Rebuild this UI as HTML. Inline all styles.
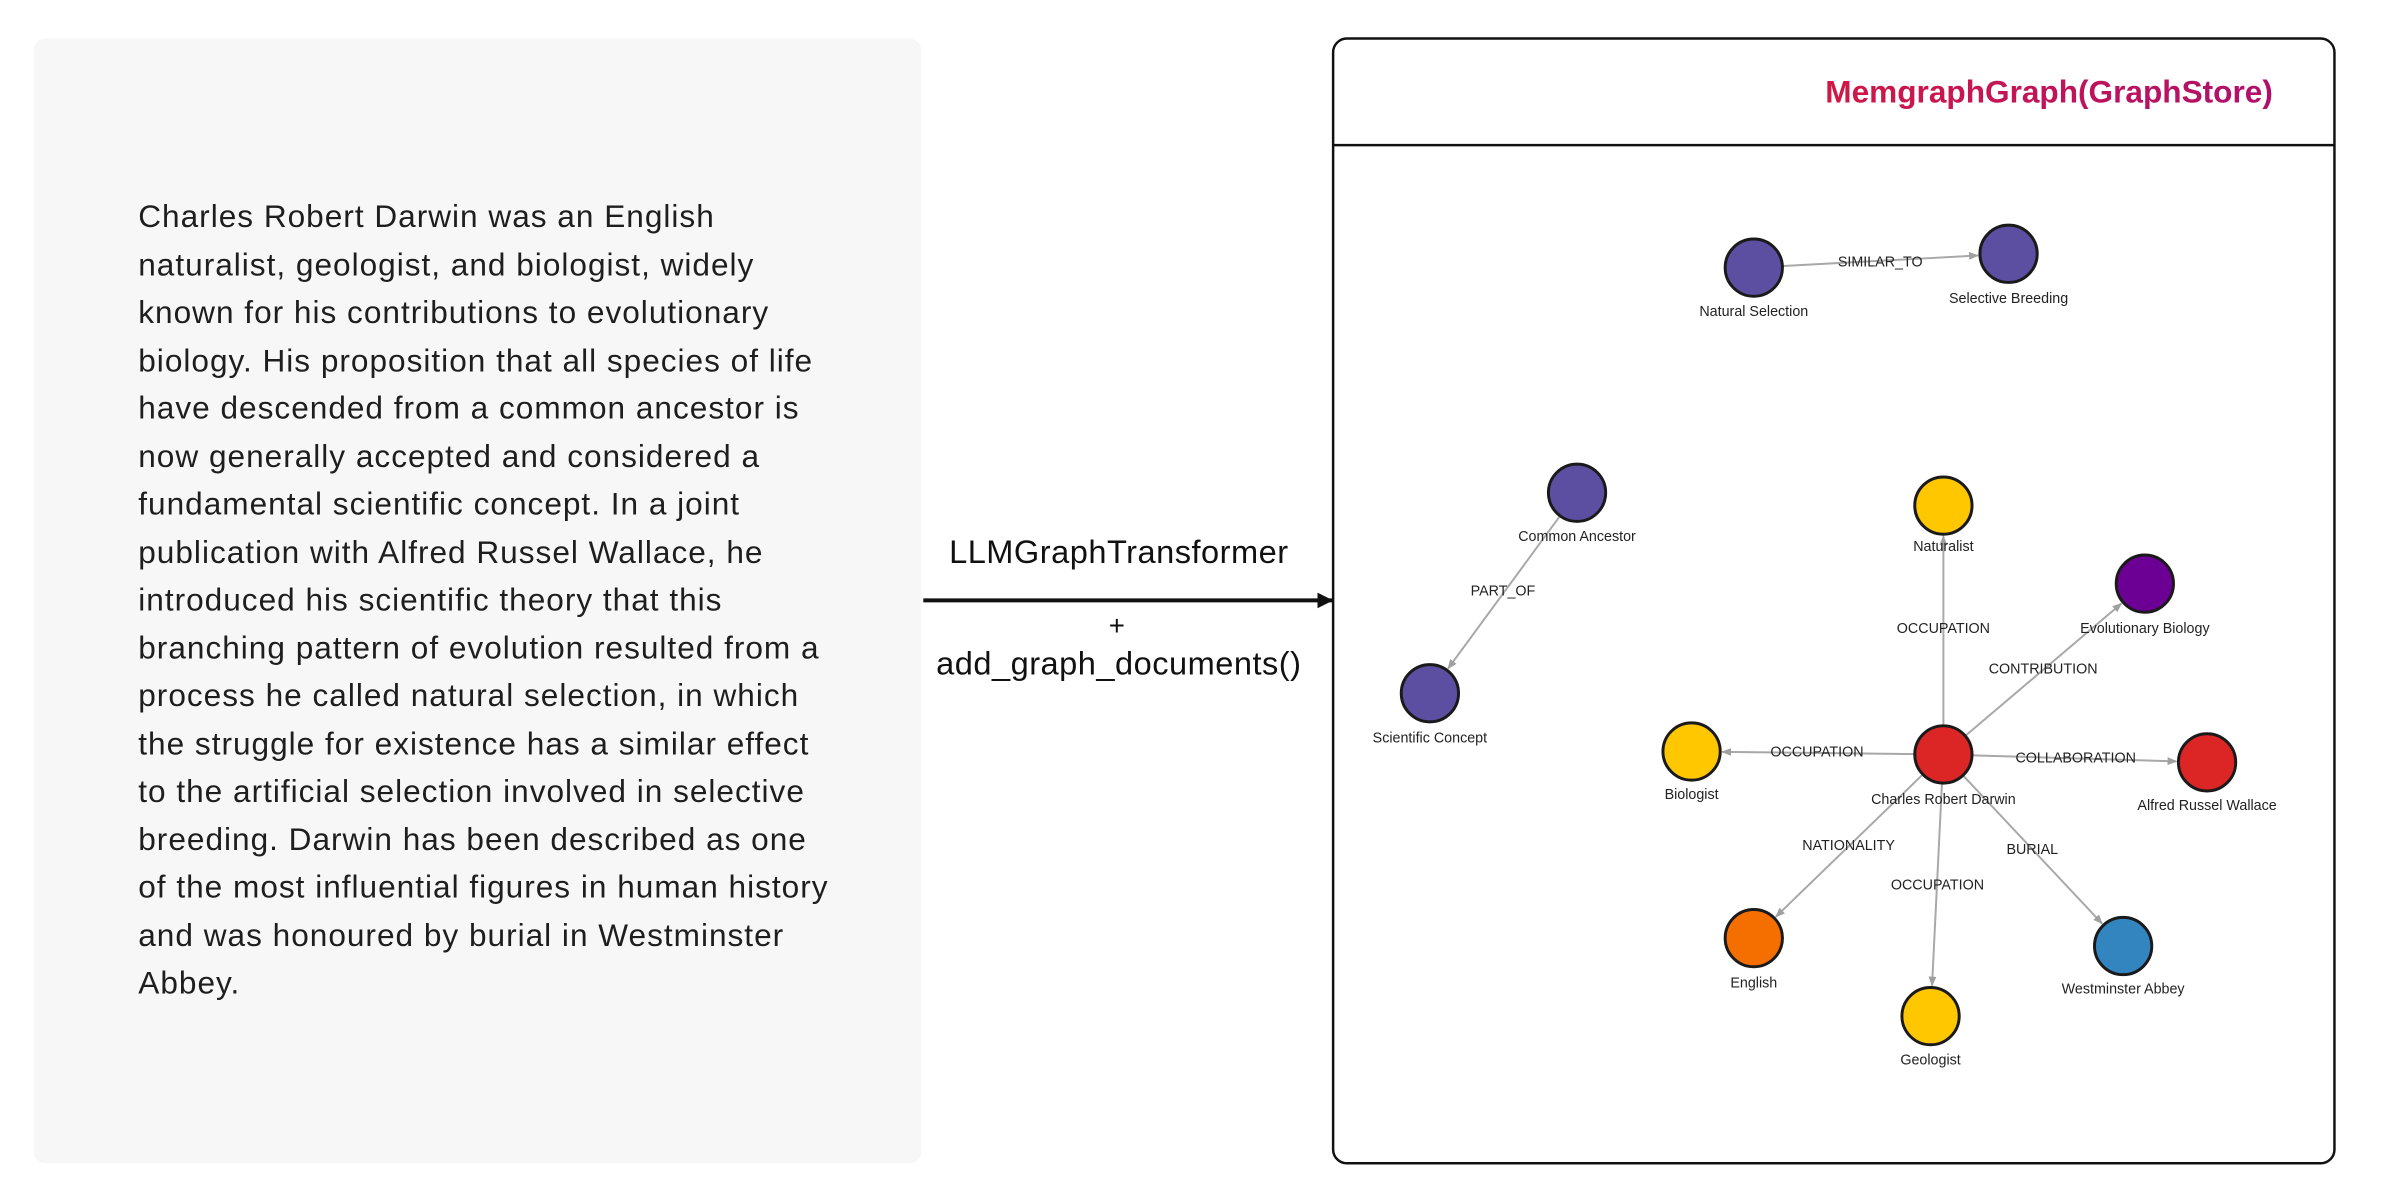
<!DOCTYPE html>
<html><head><meta charset="utf-8"><style>
html,body{margin:0;padding:0;background:#fff;width:2400px;height:1200px;overflow:hidden;font-family:"Liberation Sans",Arial,sans-serif;}
#wrap{position:absolute;left:0;top:0;width:2430px;height:1215px;transform:scale(0.9875);transform-origin:0 0;}
.left{position:absolute;left:34px;top:39px;width:899px;height:1139px;background:#f7f7f7;border-radius:12px;}
.txt{position:absolute;left:140px;top:195px;font-size:32px;letter-spacing:1px;line-height:48.5px;color:#1e1e1e;white-space:pre;}
</style></head><body><div id="wrap">
<div class="left"></div>
<div class="txt">Charles Robert Darwin was an English
naturalist, geologist, and biologist, widely
known for his contributions to evolutionary
biology. His proposition that all species of life
have descended from a common ancestor is
now generally accepted and considered a
fundamental scientific concept. In a joint
publication with Alfred Russel Wallace, he
introduced his scientific theory that this
branching pattern of evolution resulted from a
process he called natural selection, in which
the struggle for existence has a similar effect
to the artificial selection involved in selective
breeding. Darwin has been described as one
of the most influential figures in human history
and was honoured by burial in Westminster
Abbey.</div>
<svg width="2430" height="1215" style="position:absolute;left:0;top:0" xmlns="http://www.w3.org/2000/svg">
<defs>
<linearGradient id="tg" x1="0" x2="1"><stop offset="0" stop-color="#d01846"/><stop offset="1" stop-color="#b0106c"/></linearGradient>
<marker id="ah" markerWidth="10" markerHeight="10" refX="9" refY="5" orient="auto" markerUnits="userSpaceOnUse"><path d="M0,1 L10,5 L0,9 z" fill="#a0a0a0"/></marker>
<marker id="bh" markerWidth="16" markerHeight="16" refX="15" refY="8" orient="auto" markerUnits="userSpaceOnUse"><path d="M0,0 L16,8 L0,16 z" fill="#111"/></marker>
</defs>
<text x="1133" y="570" font-size="33" letter-spacing="0.5" text-anchor="middle" fill="#111">LLMGraphTransformer</text>
<line x1="935" y1="608" x2="1349" y2="608" stroke="#111" stroke-width="4" marker-end="url(#bh)"/>
<text x="1131" y="643" font-size="28" text-anchor="middle" fill="#111">+</text>
<text x="1133" y="683" font-size="33" letter-spacing="0.5" text-anchor="middle" fill="#111">add_graph_documents()</text>
<rect x="1350" y="39" width="1014" height="1139" rx="14" fill="#fff" stroke="#111" stroke-width="2.5"/>
<line x1="1350" y1="147" x2="2364" y2="147" stroke="#111" stroke-width="2.5"/>
<text x="2075" y="104" font-size="32" font-weight="bold" text-anchor="middle" fill="url(#tg)">MemgraphGraph(GraphStore)</text>
<g stroke="#a8a8a8" stroke-width="2" marker-end="url(#ah)">
<line x1="1806" y1="269.4" x2="2003" y2="258.7"/>
<line x1="1579.2" y1="523.2" x2="1466.4" y2="677"/>
<line x1="1968" y1="734" x2="1968" y2="543"/>
<line x1="1990.9" y1="744.6" x2="2148.3" y2="611.1"/>
<line x1="1938" y1="763.6" x2="1744" y2="761.4"/>
<line x1="1998" y1="764.9" x2="2204" y2="771"/>
<line x1="1946.5" y1="784.9" x2="1798.3" y2="928.4"/>
<line x1="1966.5" y1="794" x2="1956.5" y2="998"/>
<line x1="1988.5" y1="785.9" x2="2128.8" y2="935.4"/>
</g>
<g stroke="#1a1a1a" stroke-width="3">
<circle cx="1776" cy="271" r="29" fill="#5c4fa2"/>
<circle cx="2034" cy="257" r="29" fill="#5c4fa2"/>
<circle cx="1597" cy="499" r="29" fill="#5c4fa2"/>
<circle cx="1448" cy="702" r="29" fill="#5c4fa2"/>
<circle cx="1968" cy="512" r="29" fill="#ffc700"/>
<circle cx="2172" cy="591" r="29" fill="#6c0094"/>
<circle cx="1713" cy="761" r="29" fill="#ffc700"/>
<circle cx="1968" cy="764" r="29" fill="#dc2626"/>
<circle cx="2235" cy="772" r="29" fill="#dc2626"/>
<circle cx="1776" cy="950" r="29" fill="#f56f00"/>
<circle cx="2150" cy="958" r="29" fill="#3385c0"/>
<circle cx="1955" cy="1029" r="29" fill="#ffc700"/>
</g>
<g font-size="14.5" fill="#222" text-anchor="middle">
<text x="1776" y="320">Natural Selection</text>
<text x="2034" y="307">Selective Breeding</text>
<text x="1597" y="548">Common Ancestor</text>
<text x="1448" y="752">Scientific Concept</text>
<text x="1968" y="558">Naturalist</text>
<text x="2172" y="641">Evolutionary Biology</text>
<text x="1713" y="809">Biologist</text>
<text x="1968" y="814">Charles Robert Darwin</text>
<text x="2235" y="820">Alfred Russel Wallace</text>
<text x="1776" y="1000">English</text>
<text x="2150" y="1006">Westminster Abbey</text>
<text x="1955" y="1078">Geologist</text>
<text x="1904" y="270">SIMILAR_TO</text>
<text x="1522" y="603">PART_OF</text>
<text x="1968" y="641">OCCUPATION</text>
<text x="2069" y="682">CONTRIBUTION</text>
<text x="1840" y="766">OCCUPATION</text>
<text x="2102" y="772">COLLABORATION</text>
<text x="1872" y="861">NATIONALITY</text>
<text x="1962" y="901">OCCUPATION</text>
<text x="2058" y="865">BURIAL</text>
</g>
</svg>
</div></body></html>
